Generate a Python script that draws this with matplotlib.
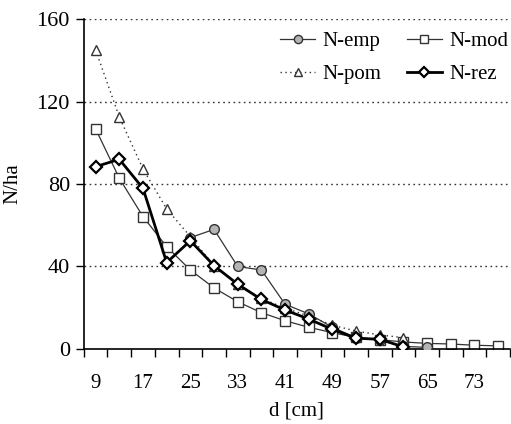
import numpy as np
import matplotlib.pyplot as plt

plt.rcParams['font.family'] = ['Liberation Serif', 'DejaVu Serif']
plt.rcParams['font.size'] = 15

# diameter classes (cm)
d = [9, 13, 17, 21, 25, 29, 33, 37, 41, 45, 49, 53, 57, 61, 65, 69, 73, 77]
nan = np.nan
n_emp = [nan, nan, nan, nan, 54, 58, 40, 38.3, 21.7, 17, 10.5, 5.5, 4.2, 1.2, 0.8, nan, nan, nan]
n_mod = [106.7, 82.8, 64.2, 49.6, 38.3, 29.6, 22.9, 17.6, 13.7, 10.5, 7.9, 5.6, 4.5, 3.4, 2.7, 2.4, 1.8, 1.5]
n_pom = [145, 112.5, 87.3, 67.9, 54.5, 40.4, 31.4, 24.5, 19.8, 16, 11.5, 8.7, 6.8, 5.5, nan, nan, nan, nan]
n_rez = [88.4, 92, 77.9, 41.9, 52.5, 40.4, 31.4, 24, 18.9, 14.5, 9.5, 5.2, 4.7, 1.0, nan, nan, nan, nan]

xticklabels = [9, 17, 25, 33, 41, 49, 57, 65, 73]
yticks = [0, 40, 80, 120, 160]

x = np.arange(len(d))

fig = plt.figure(figsize=(5.11, 4.24), dpi=100)
ax = fig.add_axes([0.164, 0.177, 0.834, 0.778])

# grid
for yv in yticks[1:]:
    ax.axhline(yv, color='#333333', linestyle=(0, (1.2, 2.5)), linewidth=1.0, zorder=0)

ax.plot(x, n_mod, color='#333333', linewidth=0.9, marker='s', markersize=7,
        markerfacecolor='white', markeredgecolor='#333333', markeredgewidth=1.0,
        label='N-mod', zorder=2)
ax.plot(x, n_pom, color='#333333', linewidth=1.0, linestyle=(0, (1, 2.5)), marker='^',
        markersize=7, markerfacecolor='white', markeredgecolor='#333333',
        markeredgewidth=1.0, label='N-pom', zorder=3)
ax.plot(x, n_emp, color='#333333', linewidth=0.9, marker='o', markersize=7,
        markerfacecolor='#b4b4b4', markeredgecolor='#333333', markeredgewidth=1.0,
        label='N-emp', zorder=4)
ax.plot(x, n_rez, color='black', linewidth=2.0, marker='D', markersize=6,
        markerfacecolor='white', markeredgecolor='black', markeredgewidth=1.6,
        label='N-rez', zorder=5)

ax.set_xlim(-0.5, len(d) - 0.5)
ax.set_ylim(0, 160)
ax.set_yticks(yticks)

# tick marks at category boundaries, labels at every second category
ax.set_xticks(np.arange(-0.5, len(d), 1.0))
ax.set_xticklabels([])
ax.set_xticks(np.arange(0, len(d), 2), minor=True)
ax.set_xticklabels([str(v) for v in xticklabels], minor=True)
ax.tick_params(axis='x', which='major', direction='out', length=6, width=1)
ax.tick_params(axis='x', which='minor', length=0, pad=18, labelsize=15)
ax.tick_params(axis='y', direction='out', length=6, width=1, pad=4, labelsize=16)

for s in ['top', 'right']:
    ax.spines[s].set_visible(False)
for s in ['left', 'bottom']:
    ax.spines[s].set_linewidth(1.2)

ax.set_xlabel('d [cm]', labelpad=6)
ax.set_ylabel('N/ha', labelpad=10)

h, l = ax.get_legend_handles_labels()
order = [2, 1, 0, 3]
ax.legend([h[i] for i in order], [l[i] for i in order], ncol=2, frameon=False,
          loc='upper right', bbox_to_anchor=(1.04, 1.02), handlelength=1.7,
          handletextpad=0.35, columnspacing=1.2, labelspacing=0.65, fontsize=15,
          markerscale=0.85)

fig.savefig('out.png', dpi=100)
